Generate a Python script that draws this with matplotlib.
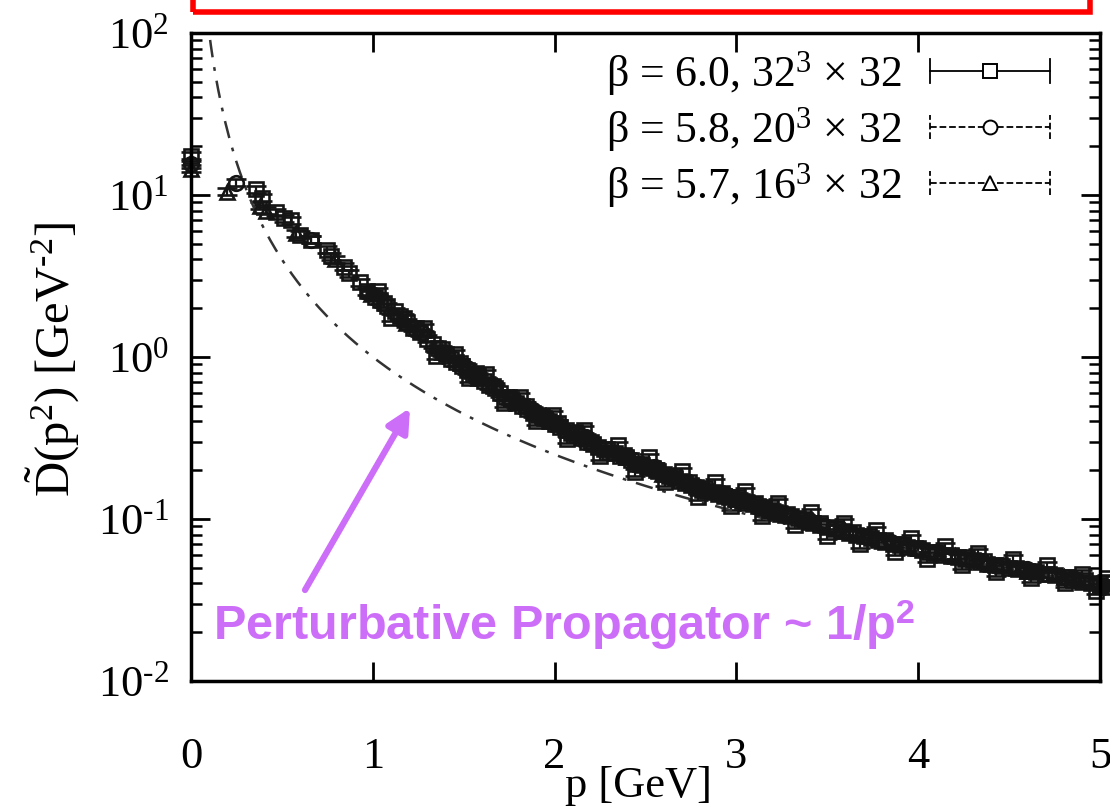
import numpy as np
import matplotlib
matplotlib.use("Agg")
import matplotlib.pyplot as plt
from matplotlib.lines import Line2D
from matplotlib.patches import Rectangle
from matplotlib.legend_handler import HandlerBase

plt.rcParams['font.family'] = ['Liberation Serif', 'DejaVu Serif']
plt.rcParams['mathtext.fontset'] = 'custom'
plt.rcParams['mathtext.rm'] = 'Liberation Serif'
plt.rcParams['mathtext.it'] = 'Liberation Serif:italic'
plt.rcParams['mathtext.bf'] = 'Liberation Sans:bold'

# --- data ---
# beta = 6.0, 32^3 x 32 (squares)
p_32 = [0.00, 0.36, 0.39, 0.47, 0.51, 0.55, 0.60, 0.66, 0.75, 0.77, 0.84, 0.87,
        0.93, 0.97, 1.01, 1.04, 1.08, 1.12, 1.15, 1.19, 1.22, 1.26, 1.30, 1.33,
        1.36, 1.40, 1.43, 1.46, 1.49, 1.52, 1.55, 1.58, 1.61, 1.64, 1.67, 1.70,
        1.73, 1.76, 1.79, 1.82, 1.85, 1.88, 1.91, 1.94, 1.97, 2.00, 2.03, 2.06,
        2.09, 2.12, 2.15, 2.18, 2.21, 2.24, 2.27, 2.30, 2.33, 2.36, 2.39, 2.42,
        2.45, 2.48, 2.51, 2.54, 2.57, 2.60, 2.63, 2.66, 2.69, 2.72, 2.75, 2.78,
        2.81, 2.84, 2.87, 2.90, 2.93, 2.96, 3.00, 3.03, 3.06, 3.09, 3.12, 3.15,
        3.18, 3.21, 3.24, 3.27, 3.30, 3.34, 3.38, 3.42, 3.46, 3.50, 3.54, 3.58,
        3.62, 3.66, 3.70, 3.74, 3.78, 3.82, 3.86, 3.90, 3.94, 3.98, 4.02, 4.06,
        4.10, 4.14, 4.18, 4.22, 4.26, 4.30, 4.34, 4.38, 4.42, 4.46, 4.50, 4.55,
        4.60, 4.65, 4.70, 4.75, 4.80, 4.85, 4.90, 4.95, 5.00, 5.05,
        1.03, 1.10, 1.28, 1.35, 1.45, 1.53, 1.62, 1.72, 1.81, 1.90, 1.99, 2.07,
        2.16, 2.25, 2.35, 2.44, 2.52, 2.61, 2.70, 2.79, 2.88, 2.97, 3.05, 3.14,
        3.23, 3.32, 3.41, 3.50, 3.59, 3.68, 3.77, 3.87, 3.96, 4.05, 4.15, 4.24,
        4.33, 4.43, 4.52, 4.62, 4.71, 4.81, 4.90, 4.98, 5.04,
        1.06, 1.17, 1.24, 1.38, 1.48, 1.57, 1.66, 1.75, 1.84, 1.93, 2.02, 2.11,
        2.20, 2.29, 2.38, 2.47, 2.56, 2.65, 2.74, 2.83, 2.92, 3.01, 3.10, 3.19,
        3.28, 3.37, 3.46, 3.55, 3.64, 3.73, 3.82, 3.91, 4.00, 4.09, 4.18, 4.27,
        4.36, 4.45, 4.54, 4.63, 4.72, 4.82, 4.92, 5.02]
d_32 = [17.5, 10.9, 9.6, 7.8, 7.2, 7.0, 5.7, 5.3, 4.6, 4.2, 3.6, 3.3,
        2.9, 2.55, 2.35, 2.25, 2.05, 1.92, 1.80, 1.64, 1.52, 1.42, 1.30, 1.20,
        1.13, 1.04, 0.97, 0.93, 0.88, 0.83, 0.78, 0.76, 0.71, 0.67, 0.64, 0.60,
        0.57, 0.55, 0.52, 0.50, 0.48, 0.45, 0.44, 0.42, 0.40, 0.385, 0.37, 0.355,
        0.34, 0.33, 0.315, 0.30, 0.29, 0.28, 0.27, 0.26, 0.255, 0.245, 0.24, 0.23,
        0.22, 0.215, 0.21, 0.205, 0.197, 0.19, 0.184, 0.178, 0.172, 0.167, 0.162, 0.157,
        0.152, 0.149, 0.146, 0.143, 0.139, 0.136, 0.133, 0.129, 0.126, 0.123, 0.120, 0.117,
        0.114, 0.111, 0.108, 0.106, 0.104, 0.101, 0.098, 0.094, 0.092, 0.089, 0.087, 0.084,
        0.082, 0.080, 0.078, 0.076, 0.074, 0.072, 0.070, 0.069, 0.067, 0.066, 0.064, 0.063,
        0.062, 0.060, 0.059, 0.058, 0.057, 0.056, 0.054, 0.053, 0.052, 0.051, 0.050, 0.049,
        0.048, 0.047, 0.046, 0.045, 0.044, 0.042, 0.041, 0.040, 0.039, 0.038,
        2.55, 1.75, 1.52, 1.02, 1.05, 0.74, 0.79, 0.52, 0.57, 0.40, 0.44, 0.31,
        0.355, 0.245, 0.285, 0.195, 0.24, 0.168, 0.198, 0.137, 0.168, 0.120, 0.148, 0.104,
        0.126, 0.092, 0.110, 0.079, 0.095, 0.070, 0.085, 0.063, 0.076, 0.057, 0.068, 0.052,
        0.062, 0.047, 0.057, 0.043, 0.052, 0.040, 0.046, 0.036, 0.043,
        2.15, 1.75, 1.50, 1.12, 0.92, 0.80, 0.66, 0.57, 0.50, 0.43, 0.39, 0.345,
        0.30, 0.27, 0.25, 0.22, 0.20, 0.185, 0.168, 0.155, 0.145, 0.137, 0.125, 0.118,
        0.108, 0.100, 0.094, 0.088, 0.083, 0.078, 0.074, 0.070, 0.066, 0.063, 0.060, 0.058,
        0.055, 0.052, 0.050, 0.048, 0.046, 0.044, 0.042, 0.040]

# beta = 5.8, 20^3 x 32 (circles)
p_20 = [0.00, 0.25, 0.66, 0.98, 1.27, 1.52, 1.67, 1.88, 1.97, 2.17, 2.40, 2.55,
        2.78, 2.95, 3.15, 3.40, 3.62, 3.85, 4.10, 4.35, 4.60, 4.85]
d_20 = [15.5, 11.9, 5.3, 2.5, 1.40, 0.86, 0.66, 0.47, 0.41, 0.32, 0.245, 0.21,
        0.16, 0.14, 0.118, 0.099, 0.083, 0.072, 0.063, 0.055, 0.049, 0.043]

# beta = 5.7, 16^3 x 32 (triangles)
p_16 = [0.00, 0.20, 0.38, 0.41, 0.58, 0.79, 0.99, 1.18, 1.38, 1.58, 1.78, 1.98,
        2.18, 2.39, 2.59, 2.79, 2.99, 3.19, 3.40, 3.60, 3.80, 4.00, 4.20, 4.40,
        4.60, 4.80, 5.00]
d_16 = [14.5, 10.5, 8.6, 8.0, 5.8, 4.0, 2.45, 1.62, 1.07, 0.74, 0.53, 0.40,
        0.31, 0.24, 0.19, 0.155, 0.132, 0.113, 0.096, 0.084, 0.073, 0.066, 0.059, 0.053,
        0.048, 0.044, 0.039]

rel_err = 0.05          # relative size of the error bars
pert_coef = 1.0         # perturbative propagator ~ pert_coef / p^2

labels = ['β = 6.0, 32$^3$ × 32', 'β = 5.8, 20$^3$ × 32', 'β = 5.7, 16$^3$ × 32']
y_ticks = [1e-2, 1e-1, 1e0, 1e1, 1e2]
y_tick_labels = ['10$^{\\text{-}2}$', '10$^{\\text{-}1}$', '10$^0$', '10$^1$', '10$^2$']
purple = '#CD6EF9'


class CapHandler(HandlerBase):
    # gnuplot style key: line with end bars and a marker in the middle
    def create_artists(self, legend, orig_handle, xdescent, ydescent,
                       width, height, fontsize, trans):
        y = height / 2 - ydescent
        x0, x1 = -xdescent, width - xdescent
        ls = orig_handle.get_linestyle()
        h = 0.28 * fontsize
        arts = [Line2D([x0, x1], [y, y], ls=ls, color='k', lw=1.3),
                Line2D([x0, x0], [y - h, y + h], ls=ls, color='k', lw=1.3),
                Line2D([x1, x1], [y - h, y + h], ls=ls, color='k', lw=1.3),
                Line2D([(x0 + x1) / 2], [y], marker=orig_handle.get_marker(), ms=10,
                       mfc='white', mec='k', mew=1.4, ls='none')]
        for a in arts:
            a.set_transform(trans)
        return arts


fig = plt.figure(figsize=(11.1, 8.1), dpi=100)
ax = fig.add_axes([191 / 1110, 129 / 810, 909 / 1110, 648 / 810])

for p, d, mk in [(p_32, d_32, 's'), (p_20, d_20, 'o'), (p_16, d_16, '^')]:
    d = np.array(d)
    cont = ax.errorbar(p, d, yerr=rel_err * d, fmt=mk, ms=10.5, mfc='none', mec='#151515',
                       mew=1.9, ecolor='#151515', elinewidth=1.6, capsize=7, capthick=1.6)
    for art in cont.get_children():
        art.set_clip_on(False)

p_line = np.linspace(0.05, 5.0, 500)
ax.plot(p_line, pert_coef / p_line ** 2, color='#333333', lw=1.8,
        ls=(0, (7, 4, 1.5, 4)))

ax.set_yscale('log')
ax.set_xlim(0, 5)
ax.set_ylim(1e-2, 1e2)
ax.set_xticks([0, 1, 2, 3, 4, 5])
ax.set_xticklabels(['0', '1', '2', '3', '4', '5'])
ax.set_yticks(y_ticks)
ax.set_yticklabels(y_tick_labels)
ax.tick_params(which='both', direction='in', top=True, right=True)
ax.tick_params(which='major', length=14, width=2)
ax.tick_params(which='minor', length=8, width=1.8)
ax.tick_params(axis='x', labelsize=32, pad=40)
ax.tick_params(axis='y', labelsize=32, pad=16)
for s in ax.spines.values():
    s.set_linewidth(2.5)

handles = [Line2D([], [], ls='-', marker='s'),
           Line2D([], [], ls=(0, (5, 4)), marker='o'),
           Line2D([], [], ls=(0, (3, 3)), marker='^')]
ax.legend(handles, labels, loc='upper right', bbox_to_anchor=(0.945, 0.975),
          frameon=False, fontsize=31.5, markerfirst=False, handlelength=2.75,
          handletextpad=0.65, labelspacing=0.17, borderpad=0, borderaxespad=0,
          handler_map={Line2D: CapHandler()})

fig.text(52 / 1110, 0.556, '$\\tilde{\\mathrm{D}}$(p$^2$) [GeV$^{\\text{-}2}$]', rotation=90,
         ha='center', va='center', fontsize=35)
fig.text(638 / 1110, 0.03, 'p [GeV]', ha='center', va='center', fontsize=32)

# annotation in purple
fig.text(213 / 1110, 170 / 810, 'Perturbative Propagator ~ 1/p$^\\mathbf{2}$',
         family='Liberation Sans', weight='bold', fontsize=35, color=purple,
         va='baseline')
ax.annotate('', xy=(410 / 1110, 402 / 810), xytext=(305 / 1110, 220 / 810),
            xycoords='figure fraction', textcoords='figure fraction',
            arrowprops=dict(arrowstyle='-|>', lw=4.5, color=purple, mutation_scale=35,
                            shrinkA=0, shrinkB=0))

# red frame cut off by the top of the figure
fig.patches.append(Rectangle((193 / 1110, 798 / 810), 897 / 1110, 0.2,
                             transform=fig.transFigure, fill=False, edgecolor='red',
                             lw=4, clip_on=False))

fig.savefig('out.png', dpi=100)
